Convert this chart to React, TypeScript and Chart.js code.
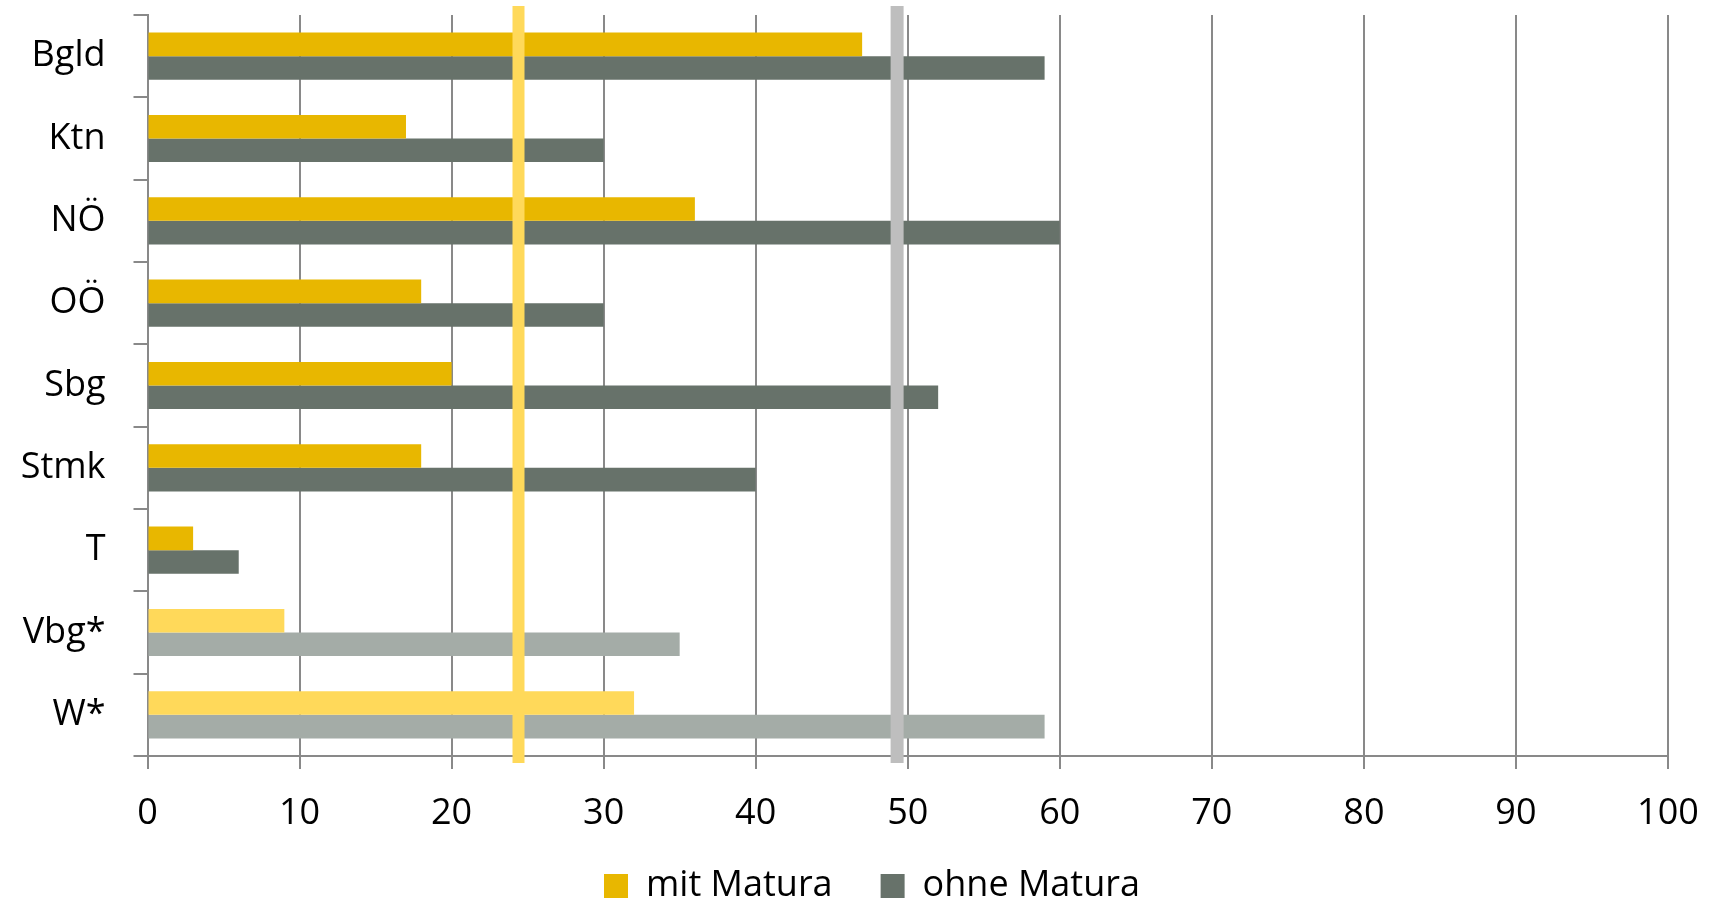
import React, { useEffect, useRef } from 'react';
import { Chart, registerables } from 'chart.js';

Chart.register(...registerables);

// ---- data ----
const categories = ['Bgld', 'Ktn', 'NÖ', 'OÖ', 'Sbg', 'Stmk', 'T', 'Vbg*', 'W*'];
const seriesLabels = ['mit Matura', 'ohne Matura'];
const mitMatura = [47, 17, 36, 18, 20, 18, 3, 9, 32];
const ohneMatura = [59, 30, 60, 30, 52, 40, 6, 35, 59];
const xMin = 0;
const xMax = 100;
const xStep = 10;
// reference (average) lines: mit Matura, ohne Matura
const referenceValues = [24.4, 49.3];

// ---- styles ----
const FONT = "'Open Sans', 'Noto Sans', sans-serif";
const FONT_SIZE = 36;
const GRID = '#898989';
const COLORS = {
  mit: '#E8B700',
  mitLight: '#FFD95A',
  ohne: '#67726A',
  ohneLight: '#A4ACA7',
};
const REF_COLORS = ['#FFD95A', '#BEBEBE'];
const REF_WIDTHS = [12, 13];
const LEGEND_SHIFT_X = 38;
const LEGEND_SHIFT_Y = -26;

const isEstimate = (i: number | undefined) =>
  i !== undefined && typeof categories[i] === 'string' && categories[i].endsWith('*');

const refLinePlugin = {
  id: 'refLines',
  afterDatasetsDraw(chart: any) {
    const xs = chart.scales.x;
    const { top, bottom } = chart.chartArea;
    const ctx = chart.ctx;
    referenceValues.forEach((v, i) => {
      const px = xs.getPixelForValue(v);
      ctx.save();
      ctx.strokeStyle = REF_COLORS[i];
      ctx.lineWidth = REF_WIDTHS[i];
      ctx.beginPath();
      ctx.moveTo(px, top - 9);
      ctx.lineTo(px, bottom + 7);
      ctx.stroke();
      ctx.restore();
    });
  },
};

const legendShiftPlugin = {
  id: 'legendShift',
  afterLayout(chart: any) {
    const l = chart.legend;
    if (l) {
      l.left += LEGEND_SHIFT_X;
      l.right += LEGEND_SHIFT_X;
      l.top += LEGEND_SHIFT_Y;
      l.bottom += LEGEND_SHIFT_Y;
    }
  },
};

export default function App() {
  const ref = useRef<HTMLCanvasElement | null>(null);

  useEffect(() => {
    if (!ref.current) return;
    const chart = new Chart(ref.current, {
      type: 'bar',
      data: {
        labels: categories,
        datasets: [
          {
            label: seriesLabels[0],
            data: mitMatura,
            backgroundColor: (c: any) => (isEstimate(c.dataIndex) ? COLORS.mitLight : COLORS.mit),
            categoryPercentage: 0.572,
            barPercentage: 1,
            borderWidth: 0,
          },
          {
            label: seriesLabels[1],
            data: ohneMatura,
            backgroundColor: (c: any) => (isEstimate(c.dataIndex) ? COLORS.ohneLight : COLORS.ohne),
            categoryPercentage: 0.572,
            barPercentage: 1,
            borderWidth: 0,
          },
        ],
      },
      options: {
        indexAxis: 'y',
        responsive: false,
        animation: false,
        events: [],
        layout: { padding: { left: 0, right: 45, top: 15, bottom: 0 } },
        scales: {
          x: {
            type: 'linear',
            min: xMin,
            max: xMax,
            ticks: {
              stepSize: xStep,
              color: '#000',
              font: { family: FONT, size: FONT_SIZE },
              padding: 23,
              maxRotation: 0,
              autoSkip: false,
            },
            grid: {
              color: GRID,
              lineWidth: 2,
              drawTicks: true,
              tickLength: 13,
            },
            border: { display: true, color: GRID, width: 2 },
            afterFit: (s: any) => {
              s.height = 90;
              s.paddingLeft = 0;
              s.paddingRight = 0;
            },
          },
          y: {
            type: 'category',
            offset: true,
            ticks: {
              color: '#000',
              font: { family: FONT, size: FONT_SIZE },
              padding: 28,
            },
            grid: {
              color: GRID,
              lineWidth: 2,
              drawOnChartArea: false,
              drawTicks: true,
              tickLength: 14,
              offset: true,
            },
            border: { display: true, color: GRID, width: 2 },
            afterFit: (s: any) => {
              s.width = 147.5;
              s.paddingTop = 0;
              s.paddingBottom = 0;
            },
          },
        },
        plugins: {
          legend: {
            position: 'bottom',
            labels: {
              boxWidth: 24,
              boxHeight: 24,
              padding: 48,
              color: '#000',
              font: { family: FONT, size: FONT_SIZE },
            },
          },
          tooltip: { enabled: false },
        },
      },
      plugins: [refLinePlugin, legendShiftPlugin],
    } as any);
    return () => chart.destroy();
  }, []);

  return (
    <div
      style={{
        position: 'fixed',
        left: 0,
        top: 0,
        width: 1713,
        height: 903,
        overflow: 'hidden',
        background: '#fff',
      }}
    >
      <canvas ref={ref} width={1713} height={940} style={{ display: 'block' }} />
    </div>
  );
}
